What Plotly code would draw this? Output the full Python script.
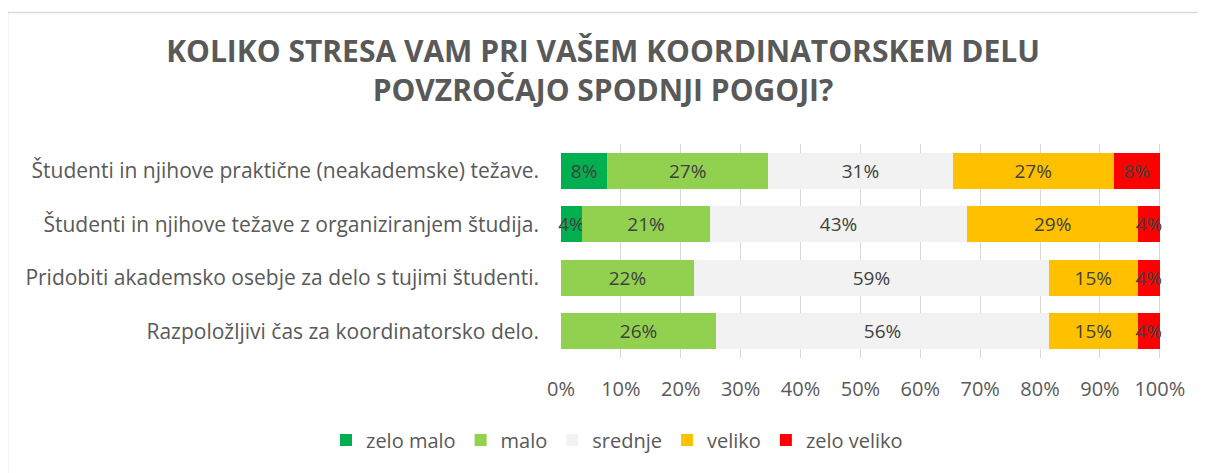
import plotly.graph_objects as go

# Data (shares in %)
categories = [
    "Študenti in njihove praktične (neakademske) težave.",
    "Študenti in njihove težave z organiziranjem študija.",
    "Pridobiti akademsko osebje za delo s tujimi študenti.",
    "Razpoložljivi čas za koordinatorsko delo.",
]
series_names = ["zelo malo", "malo", "srednje", "veliko", "zelo veliko"]
zelo_malo = [7.7, 3.5, 0.0, 0.0]
malo = [26.9, 21.4, 22.2, 25.9]
srednje = [30.8, 42.9, 59.3, 55.6]
veliko = [26.9, 28.6, 14.8, 14.8]
zelo_veliko = [7.7, 3.6, 3.7, 3.7]
tick_vals = [0, 10, 20, 30, 40, 50, 60, 70, 80, 90, 100]
tick_text = [f"{v}%" for v in tick_vals]

colors = ["#00B050", "#92D050", "#F2F2F2", "#FFC000", "#FF0000"]
font = "Open Sans, Liberation Sans, sans-serif"

W, H = 1206, 473
OFF = 8  # page body margin
L, R, T, B = 561 - OFF, 1161 - OFF, 144 - OFF, 358 - OFF

fig = go.Figure()
for name, vals, col in zip(series_names,
                           [zelo_malo, malo, srednje, veliko, zelo_veliko],
                           colors):
    fig.add_trace(go.Bar(
        y=categories, x=vals, name=name, orientation="h",
        marker=dict(color=col, line=dict(width=0)),
        text=[f"{v:.0f}%" if v > 0 else "" for v in vals],
        textposition="inside", insidetextanchor="middle",
        textangle=0, constraintext="none", cliponaxis=False,
        textfont=dict(family=font, size=19, color="#404040"),
        hoverinfo="x+name",
    ))

# chart border (top + left visible)
px = lambda v: (v - OFF - L) / (R - L)
py = lambda v: (B - (v - OFF)) / (B - T)
fig.add_shape(type="rect", xref="paper", yref="paper",
              x0=px(7.5), x1=px(1240), y0=py(500), y1=py(12.5),
              line=dict(color="#D9D9D9", width=1.5), layer="below")

fig.update_layout(
    width=W, height=H,
    barmode="stack", bargap=0.33,
    margin=dict(l=L, r=W - R, t=T, b=H - B, autoexpand=False),
    paper_bgcolor="white", plot_bgcolor="white",
    title=dict(
        text="KOLIKO STRESA VAM PRI VAŠEM KOORDINATORSKEM DELU<br>POVZROČAJO SPODNJI POGOJI?",
        x=px(603), xanchor="center", xref="paper",
        y=1 - 54 / H, yanchor="top",
        font=dict(family=font, size=30, color="#595959", weight="bold"),
    ),
    xaxis=dict(
        range=[0, 100.2], tickvals=tick_vals, ticktext=tick_text,
        showgrid=True, gridcolor="#D9D9D9", gridwidth=1,
        zeroline=False, showline=False, ticks="",
        tickfont=dict(family=font, size=20, color="#595959"),
        ticklabelstandoff=17,
    ),
    yaxis=dict(
        autorange="reversed", showgrid=False, showline=False,
        ticks="", ticklabelstandoff=21,
        tickfont=dict(family=font, size=21, color="#595959"),
    ),
    legend=dict(
        orientation="h", x=px(617), xanchor="center",
        y=py(440), yanchor="middle",
        font=dict(family=font, size=20, color="#595959"),
        traceorder="normal", itemwidth=30,
    ),
    showlegend=True,
)

fig.write_html("out.html")
